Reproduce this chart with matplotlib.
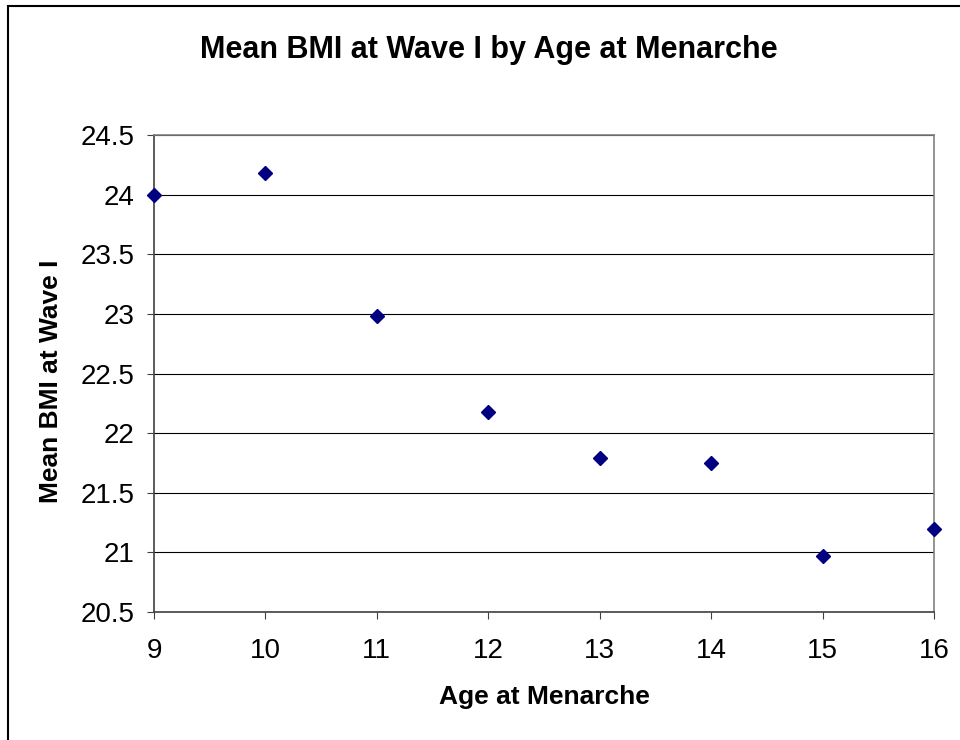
import matplotlib.pyplot as plt
from matplotlib.patches import Rectangle

plt.rcParams["font.family"] = ["Liberation Sans", "DejaVu Sans"]

age = [9, 10, 11, 12, 13, 14, 15, 16]
bmi = [24.00, 24.18, 22.98, 22.18, 21.79, 21.75, 20.97, 21.20]
yticks = [20.5, 21, 21.5, 22, 22.5, 23, 23.5, 24, 24.5]

fig = plt.figure(figsize=(9.6, 7.4), dpi=100)

# outer chart border (runs off the right and bottom edges)
fig.patches.append(Rectangle((8 / 960, -0.1), 1.2, 1 - 6 / 740 + 0.1,
                             transform=fig.transFigure, fill=False,
                             edgecolor="black", linewidth=1.5))

ax = fig.add_axes([154 / 960, 1 - 612 / 740, (934 - 154) / 960, (612 - 135) / 740])
ax.plot(age, bmi, linestyle="none", marker="D", markersize=7,
        color="#000080", clip_on=False, zorder=5)

ax.set_xlim(9, 16)
ax.set_ylim(20.5, 24.5)
ax.set_xticks(age)
ax.set_yticks(yticks)
ax.set_yticklabels([f"{v:g}" for v in yticks])
ax.grid(axis="y", color="black", linewidth=0.8)
ax.tick_params(axis="both", direction="out", length=5, width=0.8,
               color="#404040", labelsize=20)
ax.tick_params(axis="y", pad=9)
ax.tick_params(axis="x", pad=14)

for s in ["top", "right"]:
    ax.spines[s].set_color("#808080")
for s in ["left", "bottom"]:
    ax.spines[s].set_color("#404040")
for s in ax.spines.values():
    s.set_linewidth(1.2)

ax.set_xlabel("Age at Menarche", fontsize=19, fontweight="bold")
ax.set_ylabel("Mean BMI at Wave I", fontsize=19, fontweight="bold")
ax.xaxis.label.set_va("center")
ax.yaxis.label.set_va("center")
ax.xaxis.set_label_coords(0.5, -0.178)
ax.yaxis.set_label_coords(-0.132, 0.484)
fig.text(489 / 960, 1 - 50 / 740, "Mean BMI at Wave I by Age at Menarche",
         fontsize=22, fontweight="bold", ha="center", va="center")

fig.savefig("out.png", dpi=100)
